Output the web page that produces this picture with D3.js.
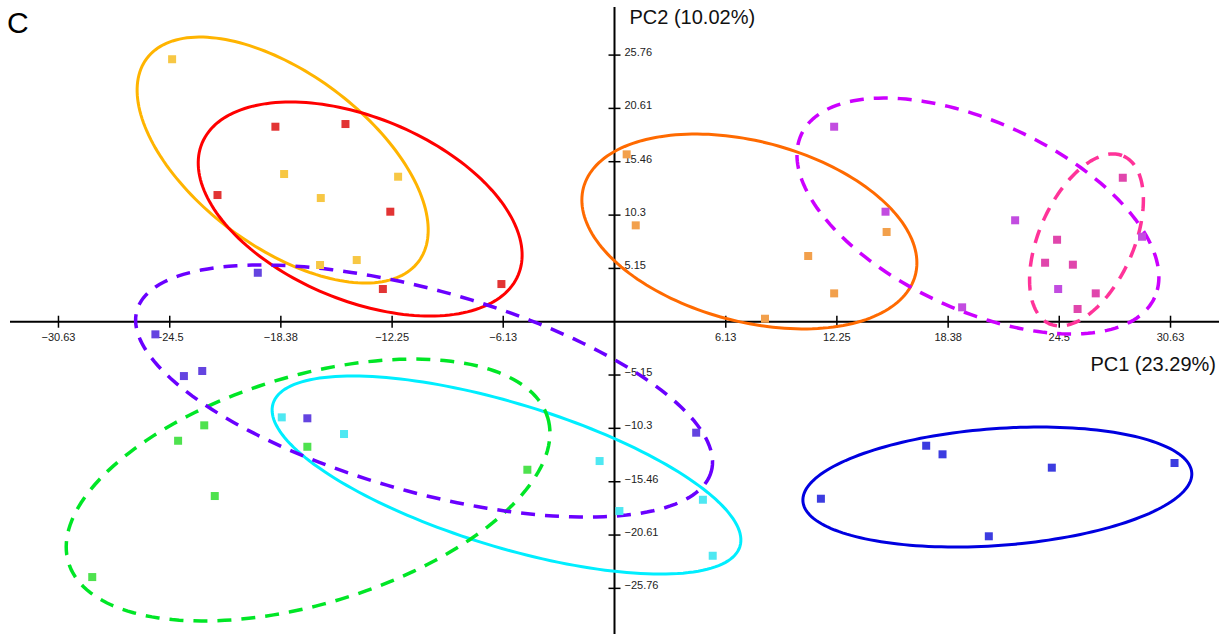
<!DOCTYPE html>
<html>
<head>
<meta charset="utf-8">
<script src="https://cdn.jsdelivr.net/npm/d3@7"></script>
<style>
  body { margin: 0; background: #fff; }
  svg { display: block; }
</style>
</head>
<body>
<svg id="chart" width="1231" height="634"></svg>
<script>
// Tick values on the two PC axes
var xTicks = [-30.63, -24.5, -18.38, -12.25, -6.13, 6.13, 12.25, 18.38, 24.5, 30.63];
var yTicks = [25.76, 20.61, 15.46, 10.3, 5.15, -5.15, -10.3, -15.46, -20.61, -25.76];

var xTitle = 'PC1 (23.29%)';
var yTitle = 'PC2 (10.02%)';
var panel = 'C';

// Sample scores [PC1, PC2] per group
var goldScores = [[-24.37, 25.36], [-18.2, 14.27], [-16.18, 11.95], [-11.92, 14.01], [-16.22, 5.48], [-14.2, 5.96]];
var redScores = [[-18.68, 18.84], [-14.82, 19.1], [-21.87, 12.24], [-12.35, 10.63], [-12.76, 3.16], [-6.23, 3.64]];
var orangeScores = [[0.67, 16.17], [1.17, 9.31], [10.67, 6.35], [8.29, 0.29], [14.99, 8.67], [12.1, 2.74]];
var magentaScores = [[12.1, 18.84], [14.93, 10.63], [22.07, 9.8], [19.15, 1.39], [24.44, 3.16], [29.06, 8.21]];
var pinkScores = [[28.0, 13.91], [24.38, 7.92], [23.72, 5.7], [25.25, 5.51], [26.51, 2.74], [25.51, 1.23]];
var blueScores = [[11.37, -17.1], [17.17, -11.98], [18.07, -12.81], [24.09, -14.1], [30.85, -13.65], [20.62, -20.73]];
var cyanScores = [[-18.33, -9.24], [-14.9, -10.85], [-0.82, -13.46], [0.27, -18.29], [4.87, -17.2], [5.41, -22.61]];
var greenScores = [[-22.6, -10.01], [-24.04, -11.5], [-16.92, -12.08], [-22.02, -16.84], [-28.77, -24.67], [-4.8, -14.3]];
var violetScores = [[-25.29, -1.22], [-23.72, -5.25], [-22.71, -4.76], [-16.92, -9.33], [4.5, -10.72], [-19.65, 4.73]];

// Confidence ellipses: centre and two conjugate half-axes, in PC units
var goldEllipse = {cx: -18.28, cy: 15.62, ux: 7.49, uy: -9.80, vx: -2.86, vy: -6.72};
var redEllipse = {cx: -14.01, cy: 10.89, ux: 8.71, uy: -6.36, vx: -1.93, vy: -8.15};
var orangeEllipse = {cx: 7.43, cy: 8.72, ux: 9.14, uy: -4.23, vx: -1.27, vy: -8.41};
var magentaEllipse = {cx: 20.02, cy: 10.21, ux: 9.73, uy: -7.88, vx: -2.17, vy: -8.24};
var pinkEllipse = {cx: 26.0, cy: 7.9, ux: 2.04, uy: 8.10, vx: 2.38, vy: -1.85};
var blueEllipse = {cx: 21.09, cy: -15.97, ux: 10.71, uy: 1.38, vx: 0.235, vy: -5.63};
var cyanEllipse = {cx: -5.95, cy: -14.81, ux: 12.86, uy: -6.90, vx: -1.154, vy: -6.63};
var greenEllipse = {cx: -16.88, cy: -16.26, ux: 13.20, uy: 7.00, vx: 1.81, vy: -10.54};
var violetEllipse = {cx: -10.49, cy: -6.70, ux: 15.82, uy: -7.78, vx: -1.50, vy: -9.37};

var groups = [
  {scores: goldScores, ellipse: goldEllipse, line: '#ffb400', fill: '#f7c744', dashed: false},
  {scores: redScores, ellipse: redEllipse, line: '#ff0000', fill: '#e23434', dashed: false},
  {scores: orangeScores, ellipse: orangeEllipse, line: '#ff6a00', fill: '#f2a04c', dashed: false},
  {scores: magentaScores, ellipse: magentaEllipse, line: '#cc00ff', fill: '#c24ce0', dashed: true},
  {scores: pinkScores, ellipse: pinkEllipse, line: '#ff3399', fill: '#e046ac', dashed: true},
  {scores: blueScores, ellipse: blueEllipse, line: '#0000e0', fill: '#3c3ce0', dashed: false},
  {scores: cyanScores, ellipse: cyanEllipse, line: '#00eeff', fill: '#4ee8f2', dashed: false},
  {scores: greenScores, ellipse: greenEllipse, line: '#00e626', fill: '#4ee24e', dashed: true},
  {scores: violetScores, ellipse: violetEllipse, line: '#6a00ff', fill: '#6444e0', dashed: true}
];

var svg = d3.select('#chart');

var x = d3.scaleLinear().domain([-33.3, 33.3]).range([10, 1219]);
var y = d3.scaleLinear().domain([-30.17, 30.31]).range([634, 8]);

var fmt = function(d) { return d3.format('.2f')(d).replace(/0+$/, '').replace(/\.$/, ''); };

// Axes through the origin
var xAxis = svg.append('g').attr('transform', 'translate(0, ' + y(0) + ')');
xAxis.append('line')
  .attr('x1', x.range()[0]).attr('x2', x.range()[1])
  .attr('stroke', '#000').attr('stroke-width', 2);
xAxis.selectAll('line.tick')
  .data(xTicks)
  .enter().append('line')
  .classed('tick', true)
  .attr('x1', function(d) { return x(d); })
  .attr('x2', function(d) { return x(d); })
  .attr('y1', -6).attr('y2', 6)
  .attr('stroke', '#000').attr('stroke-width', 1.5);
xAxis.selectAll('text')
  .data(xTicks)
  .enter().append('text')
  .attr('x', function(d) { return x(d); })
  .attr('y', 19)
  .attr('text-anchor', 'middle')
  .style('font', '11px "Liberation Sans", Arial, sans-serif')
  .attr('fill', '#222')
  .text(fmt);

var yAxis = svg.append('g').attr('transform', 'translate(' + x(0) + ', 0)');
yAxis.append('line')
  .attr('y1', y.range()[1] - 1).attr('y2', y.range()[0])
  .attr('stroke', '#000').attr('stroke-width', 2);
yAxis.selectAll('line.tick')
  .data(yTicks)
  .enter().append('line')
  .classed('tick', true)
  .attr('y1', function(d) { return y(d); })
  .attr('y2', function(d) { return y(d); })
  .attr('x1', -6).attr('x2', 6)
  .attr('stroke', '#000').attr('stroke-width', 1.5);
yAxis.selectAll('text')
  .data(yTicks)
  .enter().append('text')
  .attr('x', 10)
  .attr('y', function(d) { return y(d) + 1; })
  .style('font', '11px "Liberation Sans", Arial, sans-serif')
  .attr('fill', '#222')
  .text(fmt);

// Titles
svg.append('text')
  .attr('x', x(0) + 15).attr('y', 24)
  .style('font', '20px "Liberation Sans", Arial, sans-serif')
  .attr('fill', '#111')
  .text(yTitle);

svg.append('text')
  .attr('x', 1216).attr('y', 371)
  .attr('text-anchor', 'end')
  .style('font', '20px "Liberation Sans", Arial, sans-serif')
  .attr('fill', '#111')
  .text(xTitle);

svg.append('text')
  .attr('x', 7).attr('y', 33)
  .style('font', '30px "Liberation Sans", Arial, sans-serif')
  .attr('fill', '#000')
  .text(panel);

// Ellipses
var ellipsePath = function(e) {
  var pts = d3.range(0, 181).map(function(i) {
    var t = i / 180 * 2 * Math.PI;
    return [e.cx + e.ux * Math.cos(t) + e.vx * Math.sin(t),
            e.cy + e.uy * Math.cos(t) + e.vy * Math.sin(t)];
  });
  return d3.line()
    .x(function(d) { return x(d[0]); })
    .y(function(d) { return y(d[1]); })
    .curve(d3.curveLinearClosed)(pts);
};

svg.append('g').selectAll('path')
  .data(groups)
  .enter().append('path')
  .attr('d', function(d) { return ellipsePath(d.ellipse); })
  .attr('fill', 'none')
  .attr('stroke', function(d) { return d.line; })
  .attr('stroke-width', function(d) { return d.dashed ? 3.5 : 3; })
  .attr('stroke-dasharray', function(d) { return d.dashed ? '14 10' : null; });

// Points
var size = 8;
groups.forEach(function(g) {
  svg.append('g').selectAll('rect')
    .data(g.scores)
    .enter().append('rect')
    .attr('x', function(d) { return x(d[0]) - size / 2; })
    .attr('y', function(d) { return y(d[1]) - size / 2; })
    .attr('width', size)
    .attr('height', size)
    .attr('fill', g.fill);
});
</script>
</body>
</html>
